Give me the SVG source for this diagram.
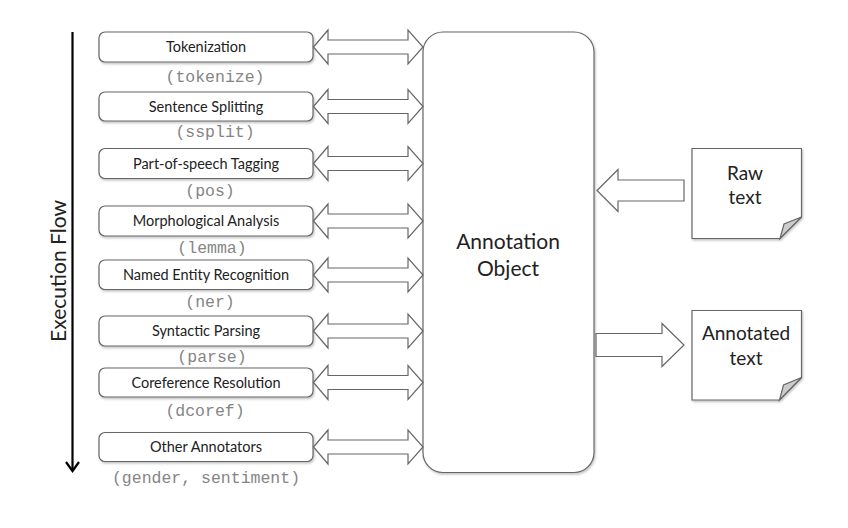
<svg xmlns="http://www.w3.org/2000/svg" width="848" height="528" viewBox="0 0 848 528">
  <defs>
    <style>
      .box { fill: #ffffff; stroke: #666666; stroke-width: 1.2; }
      .lbl { font-family: Lato, "Liberation Sans", sans-serif; font-size: 14.5px; fill: #222222; text-anchor: middle; }
      .code { font-family: "Liberation Mono", "DejaVu Sans Mono", monospace; font-size: 16.5px; fill: #858585; text-anchor: middle; }
      .big { font-family: Lato, "Liberation Sans", sans-serif; font-size: 21px; fill: #222222; text-anchor: middle; }
      .doc { font-family: Lato, "Liberation Sans", sans-serif; font-size: 19px; fill: #222222; text-anchor: middle; }
      .arr { fill: #ffffff; stroke: #666666; stroke-width: 1.2; stroke-linejoin: miter; }
      .fold { fill: #cccccc; stroke: #666666; stroke-width: 1.2; }
    </style>
    <filter id="shadow" x="-5%" y="-5%" width="115%" height="120%">
      <feDropShadow dx="1" dy="1.5" stdDeviation="1" flood-color="#000000" flood-opacity="0.25"/>
    </filter>
  </defs>

  <!-- execution flow -->
  <g id="execution-flow">
    <line x1="72.5" y1="32" x2="72.5" y2="470" stroke="#000000" stroke-width="2.2"/>
    <path d="M66,462 L72.5,471 L79,462" fill="none" stroke="#000000" stroke-width="2.2"/>
    <text class="big" transform="translate(65.5,271) rotate(-90)" font-size="25">Execution Flow</text>
  </g>

  <!-- annotator nodes -->
  <g id="tokenize">
    <rect class="box" x="99" y="32" width="214" height="30" rx="6" filter="url(#shadow)"/>
    <text class="lbl" x="206" y="52">Tokenization</text>
    <text class="code" x="215" y="82">(tokenize)</text>
  </g>
  <g id="ssplit">
    <rect class="box" x="99" y="92" width="214" height="29" rx="6" filter="url(#shadow)"/>
    <text class="lbl" x="206" y="111.5">Sentence Splitting</text>
    <text class="code" x="215" y="137">(ssplit)</text>
  </g>
  <g id="pos">
    <rect class="box" x="99" y="148.5" width="214" height="30" rx="6" filter="url(#shadow)"/>
    <text class="lbl" x="206" y="168.5">Part-of-speech Tagging</text>
    <text class="code" x="210" y="195.5">(pos)</text>
  </g>
  <g id="lemma">
    <rect class="box" x="99" y="206" width="214" height="30" rx="6" filter="url(#shadow)"/>
    <text class="lbl" x="206" y="226">Morphological Analysis</text>
    <text class="code" x="212" y="252.5">(lemma)</text>
  </g>
  <g id="ner">
    <rect class="box" x="99" y="260" width="214" height="29.5" rx="6" filter="url(#shadow)"/>
    <text class="lbl" x="206" y="280">Named Entity Recognition</text>
    <text class="code" x="210" y="307">(ner)</text>
  </g>
  <g id="parse">
    <rect class="box" x="99" y="316" width="214" height="30" rx="6" filter="url(#shadow)"/>
    <text class="lbl" x="206" y="336">Syntactic Parsing</text>
    <text class="code" x="212" y="361.5">(parse)</text>
  </g>
  <g id="dcoref">
    <rect class="box" x="99" y="368" width="214" height="29" rx="6" filter="url(#shadow)"/>
    <text class="lbl" x="206" y="387.5">Coreference Resolution</text>
    <text class="code" x="205" y="416">(dcoref)</text>
  </g>
  <g id="other">
    <rect class="box" x="99" y="432.5" width="214" height="29" rx="6" filter="url(#shadow)"/>
    <text class="lbl" x="206" y="452">Other Annotators</text>
    <text class="code" x="206" y="482.5" font-size="17.6">(gender, sentiment)</text>
  </g>

  <!-- central annotation object -->
  <g id="annotation-object">
    <rect class="box" x="423" y="32" width="171" height="440.5" rx="20" filter="url(#shadow)"/>
    <text class="big" x="508" y="249">Annotation</text>
    <text class="big" x="508" y="275.5">Object</text>
  </g>

  <!-- document nodes -->
  <g id="raw-text">
    <path class="box" d="M692,148.5 H801.5 V217 L780,238.5 H692 Z" filter="url(#shadow)"/>
    <path class="fold" d="M801.5,217 L780,238.5 L784,224 Z"/>
    <text class="doc" x="745" y="180">Raw</text>
    <text class="doc" x="745" y="203.5">text</text>
  </g>
  <g id="annotated-text">
    <path class="box" d="M692,310.5 H801.5 V377.5 L779.5,400 H692 Z" filter="url(#shadow)"/>
    <path class="fold" d="M801.5,377.5 L779.5,400 L783.5,385 Z"/>
    <text class="doc" x="746" y="340">Annotated</text>
    <text class="doc" x="746" y="364.5">text</text>
  </g>

  <!-- connectors -->
  <g id="connectors">
    <path class="arr" transform="translate(0,47)" d="M313.5,0 L328,-17 V-7 H408 V-17 L423,0 L408,17 V7 H328 V17 Z"/>
    <path class="arr" transform="translate(0,106.5)" d="M313.5,0 L328,-17 V-7 H408 V-17 L423,0 L408,17 V7 H328 V17 Z"/>
    <path class="arr" transform="translate(0,163.5)" d="M313.5,0 L328,-17 V-7 H408 V-17 L423,0 L408,17 V7 H328 V17 Z"/>
    <path class="arr" transform="translate(0,221)" d="M313.5,0 L328,-17 V-7 H408 V-17 L423,0 L408,17 V7 H328 V17 Z"/>
    <path class="arr" transform="translate(0,275)" d="M313.5,0 L328,-17 V-7 H408 V-17 L423,0 L408,17 V7 H328 V17 Z"/>
    <path class="arr" transform="translate(0,331)" d="M313.5,0 L328,-17 V-7 H408 V-17 L423,0 L408,17 V7 H328 V17 Z"/>
    <path class="arr" transform="translate(0,382.5)" d="M313.5,0 L328,-17 V-7 H408 V-17 L423,0 L408,17 V7 H328 V17 Z"/>
    <path class="arr" transform="translate(0,447)" d="M313.5,0 L328,-17 V-7 H408 V-17 L423,0 L408,17 V7 H328 V17 Z"/>
    <!-- raw text into the annotation object -->
    <path class="arr" d="M597,190.5 L618,169.5 V180 H684 V201 H618 V211.5 Z"/>
    <!-- annotation object out to annotated text -->
    <path class="arr" d="M596,333.5 H662 V323.5 L684,345 L662,366.5 V356.5 H596 Z"/>
  </g>
</svg>
